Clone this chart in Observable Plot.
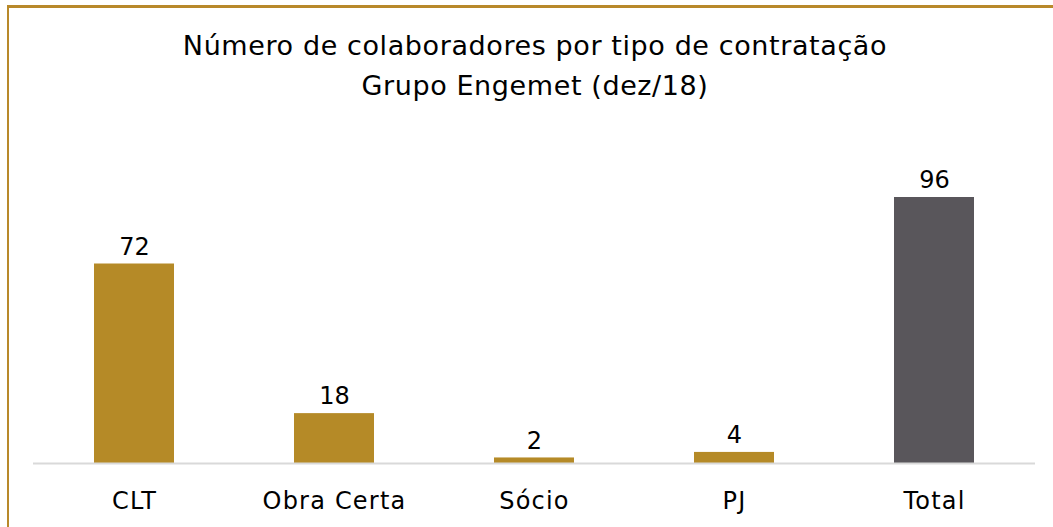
<!DOCTYPE html>
<html><head><meta charset="utf-8">
<script src="https://cdn.jsdelivr.net/npm/d3@7"></script>
<script src="https://cdn.jsdelivr.net/npm/@observablehq/plot@0.6"></script>
<style>
html,body{margin:0;padding:0;background:#fff;}
#wrap{position:relative;width:1053px;height:527px;overflow:hidden;font-family:"DejaVu Sans",sans-serif;}
#frame{position:absolute;left:7px;top:5px;right:-10px;bottom:-10px;border-top:3px solid #B8892A;border-left:2px solid #B8892A;}
#title{position:absolute;left:0;top:26px;width:1070px;text-align:center;font-size:27px;letter-spacing:0.6px;line-height:40px;color:#000;}
#chart{position:absolute;left:0;top:0;}
#chart svg g[aria-label="x-axis tick label"] text{letter-spacing:1.2px;}
</style></head>
<body>
<div id="wrap"><div id="frame"></div><div id="chart"></div>
<div id="title">Número de colaboradores por tipo de contratação<br>Grupo Engemet (dez/18)</div></div>
<script>
const categories = ["CLT","Obra Certa","Sócio","PJ","Total"];
const values = [72,18,2,4,96];
const colors = ["#B58A27","#B58A27","#B58A27","#B58A27","#59565B"];
const data = categories.map((c,i)=>({cat:c,value:values[i],color:colors[i]}));
const chart = Plot.plot({
  width:1053, height:527,
  marginLeft:33, marginRight:18, marginTop:197, marginBottom:64,
  style:{fontFamily:"DejaVu Sans, sans-serif", background:"transparent"},
  x:{domain:categories, paddingInner:0.6, paddingOuter:0.3, label:null, tickSize:0, tickPadding:28},
  y:{domain:[0,96], axis:null},
  marks:[
    Plot.barY(data,{x:"cat",y:"value",fill:"color"}),
    Plot.ruleY([0],{stroke:"#D9D9D9",strokeWidth:2}),
    Plot.text(data,{x:"cat",y:"value",text:d=>String(d.value),dy:-17,fontSize:24,fill:"#000"}),
    Plot.axisX({tickSize:0,tickPadding:28,fontSize:24,label:null,fill:"#000"})
  ]
});
document.getElementById("chart").appendChild(chart);
</script>
</body></html>
